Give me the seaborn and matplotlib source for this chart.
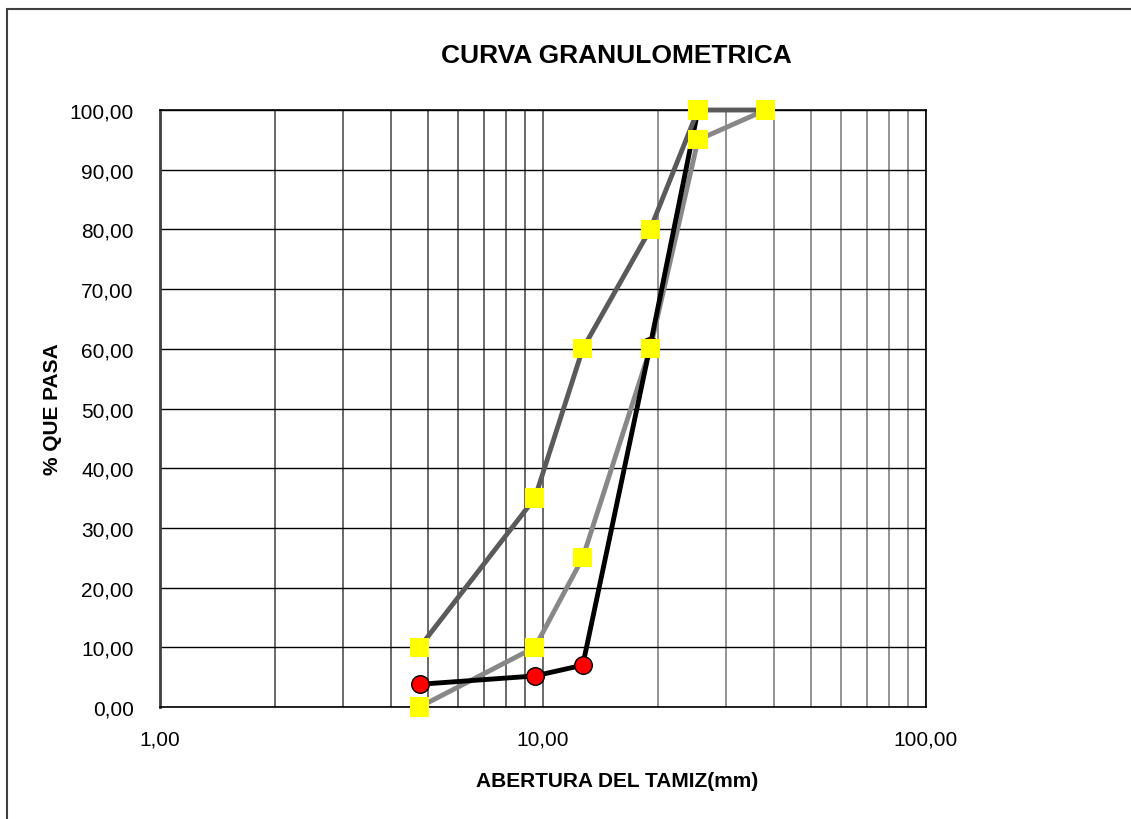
import numpy as np
import pandas as pd
import seaborn as sns
import matplotlib.pyplot as plt
import matplotlib.ticker as mticker
from matplotlib.patches import Rectangle

# aberturas de tamiz (mm) y % que pasa
abertura = [4.76, 9.525, 12.7, 19.05, 25.4, 38.1]
lim_superior = [10.0, 35.0, 60.0, 80.0, 100.0, 100.0]
lim_inferior = [0.0, 10.0, 25.0, 60.0, 95.0, 100.0]
abertura_muestra = [4.76, 9.525, 12.7, 19.05, 25.4]
pasa_muestra = [3.8, 5.2, 7.0, 60.5, 100.0]

y_ticks = [0, 10, 20, 30, 40, 50, 60, 70, 80, 90, 100]
x_ticks = [1, 10, 100]

sns.set_style("white")
plt.rcParams['font.family'] = ['Liberation Sans', 'DejaVu Sans']
plt.rcParams['text.color'] = 'black'
plt.rcParams['axes.labelcolor'] = 'black'
plt.rcParams['xtick.color'] = 'black'
plt.rcParams['ytick.color'] = 'black'

df_lim = pd.DataFrame({"abertura": abertura, "sup": lim_superior, "inf": lim_inferior})
df_mue = pd.DataFrame({"abertura": abertura_muestra, "pasa": pasa_muestra})

fig = plt.figure(figsize=(11.31, 8.2), dpi=100)
ax = fig.add_axes([0.1415, 0.1366, 0.6772, 0.728])
ax.set_xscale('log')

sns.lineplot(data=df_lim, x="abertura", y="inf", color="#888888", lw=3.5, ax=ax, zorder=2)
sns.lineplot(data=df_mue, x="abertura", y="pasa", color="black", lw=3.5, ax=ax, zorder=2.5)
sns.lineplot(data=df_lim, x="abertura", y="sup", color="#5a5a5a", lw=3.5, ax=ax, zorder=2.6)
sns.scatterplot(data=df_mue, x="abertura", y="pasa", color="red", edgecolor="black",
                linewidth=1, s=160, marker="o", ax=ax, zorder=3)
sns.scatterplot(data=df_lim, x="abertura", y="inf", color="yellow", edgecolor="none",
                s=190, marker="s", ax=ax, zorder=4)
sns.scatterplot(data=df_lim, x="abertura", y="sup", color="yellow", edgecolor="none",
                s=190, marker="s", ax=ax, zorder=4)
for art in ax.collections + ax.lines:
    art.set_clip_on(False)

ax.set_xlim(1, 100)
ax.set_ylim(0, 100)
ax.set_xticks(x_ticks)
ax.set_yticks(y_ticks)
ax.xaxis.set_minor_locator(mticker.LogLocator(base=10, subs=np.arange(2, 10)))
ax.xaxis.set_minor_formatter(mticker.NullFormatter())
fmt = mticker.FuncFormatter(lambda v, p: f"{v:.2f}".replace('.', ','))
ax.xaxis.set_major_formatter(fmt)
ax.yaxis.set_major_formatter(fmt)

ax.grid(True, which='major', axis='y', color='black', lw=1)
ax.grid(True, which='both', axis='x', color='#505050', lw=1.2)
for t in ax.xaxis.get_minor_ticks():
    if t.get_loc() > 10:
        t.gridline.set_color('#808080')
for gl in ax.get_xgridlines() + ax.get_ygridlines():
    gl.set_clip_on(True)

ax.tick_params(axis='both', which='major', labelsize=15, length=7, width=1, color='black')
ax.tick_params(axis='x', which='major', direction='out', pad=9)
ax.tick_params(axis='y', which='major', direction='inout', length=14, pad=12)
ax.tick_params(axis='x', which='minor', length=0)
for s in ax.spines.values():
    s.set_color('black')
    s.set_linewidth(1.2)
ax.spines['left'].set_color('#404040')
ax.spines['left'].set_linewidth(2)

ax.set_xlabel("ABERTURA DEL TAMIZ(mm)", fontsize=15, fontweight='bold')
ax.set_ylabel("% QUE PASA", fontsize=15, fontweight='bold')
ax.xaxis.set_label_coords(0.597, -0.107)
ax.yaxis.set_label_coords(-0.128, 0.5)

fig.text(0.545, 0.932, "CURVA GRANULOMETRICA", fontsize=19, fontweight='bold',
         ha='center', va='center')

fig.patches.append(Rectangle((7 / 1131, -0.1), 1.2, 1.1 - 10 / 820, transform=fig.transFigure,
                             fill=False, edgecolor='#404040', lw=1.5))

fig.savefig("out.png", dpi=100)
